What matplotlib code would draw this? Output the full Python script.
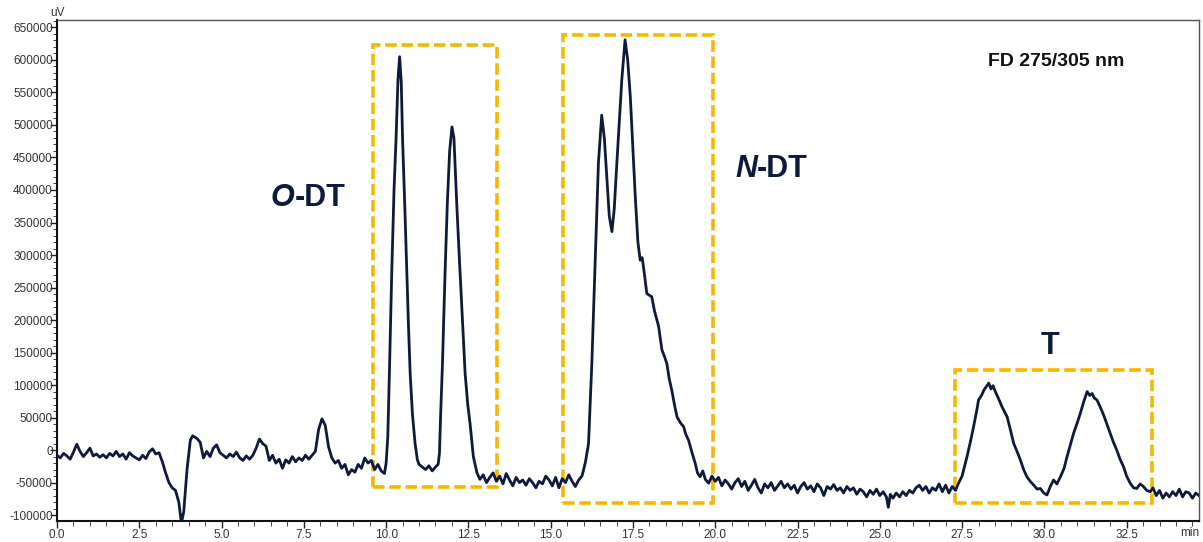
import matplotlib.pyplot as plt
from matplotlib.patches import Rectangle
from matplotlib.ticker import MultipleLocator, StrMethodFormatter

plt.rcParams['font.family'] = ['Liberation Sans', 'DejaVu Sans']
plt.rcParams['axes.unicode_minus'] = False

# chromatogram trace (time in min, signal in uV)
time_min = [
    0.0, 0.1, 0.2, 0.3, 0.4, 0.5, 0.6, 0.7, 0.8, 0.9,
    1.0, 1.1, 1.2, 1.3, 1.4, 1.5, 1.6, 1.7, 1.8, 1.9,
    2.0, 2.1, 2.2, 2.3, 2.4, 2.5, 2.6, 2.7, 2.8, 2.9,
    3.0, 3.1, 3.2, 3.3, 3.4, 3.5, 3.6, 3.7, 3.78, 3.85,
    3.95, 4.05, 4.12, 4.25, 4.35, 4.45, 4.55, 4.65, 4.75, 4.85,
    4.95, 5.05, 5.15, 5.25, 5.35, 5.45, 5.55, 5.65, 5.75, 5.85,
    5.95, 6.05, 6.15, 6.25, 6.35, 6.45, 6.55, 6.65, 6.75, 6.85,
    6.95, 7.05, 7.15, 7.25, 7.35, 7.45, 7.55, 7.65, 7.75, 7.85,
    7.95, 8.05, 8.15, 8.25, 8.35, 8.45, 8.55, 8.65, 8.75, 8.85,
    8.95, 9.05, 9.15, 9.25, 9.35, 9.45, 9.55, 9.65, 9.75, 9.85,
    9.95, 10.0, 10.05, 10.1, 10.17, 10.24, 10.3, 10.36, 10.41, 10.46,
    10.5, 10.57, 10.63, 10.68, 10.73, 10.8, 10.88, 10.95, 11.0, 11.1,
    11.2, 11.3, 11.4, 11.5, 11.58, 11.62, 11.66, 11.71, 11.79, 11.86,
    11.93, 12.0, 12.06, 12.15, 12.22, 12.3, 12.4, 12.48, 12.55, 12.65,
    12.76, 12.85, 12.95, 13.05, 13.15, 13.25, 13.35, 13.45, 13.55, 13.65,
    13.75, 13.85, 13.95, 14.05, 14.15, 14.25, 14.35, 14.45, 14.55, 14.65,
    14.75, 14.85, 14.95, 15.05, 15.15, 15.25, 15.35, 15.45, 15.55, 15.65,
    15.75, 15.85, 15.95, 16.05, 16.15, 16.2, 16.25, 16.35, 16.45, 16.55,
    16.63, 16.71, 16.78, 16.86, 16.93, 17.01, 17.16, 17.26, 17.34, 17.42,
    17.5, 17.57, 17.65, 17.72, 17.78, 17.85, 17.92, 18.0, 18.07, 18.15,
    18.28, 18.38, 18.45, 18.53, 18.6, 18.68, 18.76, 18.84, 18.94, 19.04,
    19.1, 19.19, 19.3, 19.39, 19.46, 19.54, 19.62, 19.7, 19.8, 19.9,
    20.0, 20.1, 20.2, 20.3, 20.4, 20.5, 20.6, 20.7, 20.8, 20.9,
    21.0, 21.1, 21.2, 21.3, 21.4, 21.5, 21.6, 21.7, 21.8, 21.9,
    22.0, 22.1, 22.2, 22.3, 22.4, 22.5, 22.6, 22.7, 22.8, 22.9,
    23.0, 23.1, 23.2, 23.3, 23.4, 23.5, 23.6, 23.7, 23.8, 23.9,
    24.0, 24.1, 24.2, 24.3, 24.4, 24.5, 24.6, 24.7, 24.8, 24.9,
    25.0, 25.1, 25.2, 25.26, 25.32, 25.4, 25.5, 25.6, 25.7, 25.8,
    25.9, 26.0, 26.1, 26.2, 26.3, 26.4, 26.5, 26.6, 26.7, 26.8,
    26.9, 27.0, 27.1, 27.2, 27.3, 27.4, 27.5, 27.65, 27.75, 27.85,
    27.95, 28.0, 28.1, 28.16, 28.24, 28.31, 28.38, 28.44, 28.51, 28.6,
    28.71, 28.8, 28.87, 28.95, 29.07, 29.17, 29.27, 29.37, 29.47, 29.57,
    29.68, 29.78, 29.88, 29.98, 30.08, 30.18, 30.28, 30.38, 30.49, 30.6,
    30.69, 30.79, 30.89, 31.0, 31.09, 31.2, 31.3, 31.38, 31.45, 31.52,
    31.6, 31.7, 31.8, 31.9, 32.0, 32.1, 32.2, 32.3, 32.41, 32.5,
    32.61, 32.71, 32.81, 32.91, 33.01, 33.11, 33.22, 33.3, 33.4, 33.5,
    33.6, 33.7, 33.8, 33.9, 34.0, 34.1, 34.2, 34.3, 34.4, 34.5,
    34.6, 34.7,
]
signal_uv = [
    -8000, -12000, -5000, -9000, -14000, -3000, 9000, -2000, -10000, -4000,
    3000, -9000, -6000, -11000, -7000, -12000, -5000, -9000, -2000, -10000,
    -6000, -14000, -4000, -9000, -12000, -15000, -8000, -13000, -3000, 2000,
    -6000, -4000, -18000, -35000, -50000, -58000, -62000, -80000, -112000, -95000,
    -30000, 15000, 22000, 18000, 12000, -12000, -2000, -10000, 3000, 8000,
    -4000, -8000, -12000, -6000, -10000, -3000, -12000, -16000, -9000, -14000,
    -8000, 3000, 17000, 10000, 6000, -16000, -8000, -20000, -14000, -28000,
    -15000, -20000, -10000, -18000, -12000, -16000, -8000, -14000, -8000, -2000,
    32000, 48000, 38000, 5000, -12000, -20000, -16000, -28000, -22000, -38000,
    -30000, -34000, -22000, -28000, -12000, -20000, -16000, -30000, -22000, -32000,
    -36000, -20000, 20000, 120000, 272000, 400000, 477000, 570000, 605000, 565000,
    477000, 370000, 272000, 190000, 118000, 55000, 10000, -15000, -22000, -26000,
    -30000, -24000, -32000, -26000, -22000, -5000, 60000, 130000, 272000, 380000,
    460000, 497000, 480000, 374000, 300000, 220000, 118000, 70000, 41000, -10000,
    -35000, -45000, -38000, -50000, -42000, -35000, -48000, -40000, -52000, -36000,
    -46000, -55000, -42000, -50000, -46000, -54000, -44000, -50000, -58000, -48000,
    -52000, -40000, -46000, -55000, -42000, -58000, -44000, -50000, -38000, -48000,
    -56000, -46000, -40000, -20000, 10000, 70000, 133000, 287000, 441000, 515000,
    480000, 415000, 360000, 336000, 370000, 441000, 569000, 631000, 600000, 543000,
    460000, 390000, 320000, 292000, 296000, 270000, 241000, 238000, 236000, 215000,
    190000, 154000, 145000, 133000, 110000, 92000, 70000, 51000, 42000, 36000,
    25000, 15000, -5000, -20000, -35000, -41000, -32000, -45000, -51000, -40000,
    -48000, -42000, -55000, -46000, -52000, -60000, -50000, -44000, -56000, -48000,
    -62000, -54000, -45000, -58000, -66000, -52000, -58000, -50000, -62000, -55000,
    -48000, -58000, -52000, -60000, -54000, -66000, -56000, -50000, -60000, -55000,
    -64000, -52000, -58000, -70000, -56000, -60000, -53000, -62000, -58000, -66000,
    -56000, -62000, -58000, -68000, -60000, -64000, -72000, -62000, -68000, -60000,
    -70000, -64000, -72000, -88000, -68000, -74000, -66000, -72000, -64000, -70000,
    -62000, -66000, -58000, -54000, -62000, -56000, -66000, -58000, -62000, -52000,
    -64000, -54000, -66000, -56000, -62000, -50000, -40000, -10000, 12000, 36000,
    62000, 77000, 85000, 92000, 98000, 103000, 94000, 99000, 90000, 80000,
    67000, 58000, 51000, 35000, 10000, -2000, -15000, -30000, -41000, -48000,
    -54000, -60000, -59000, -66000, -69000, -56000, -46000, -52000, -41000, -28000,
    -10000, 8000, 26000, 42000, 56000, 75000, 90000, 84000, 87000, 80000,
    77000, 66000, 54000, 40000, 26000, 12000, 0, -14000, -26000, -40000,
    -51000, -58000, -59000, -52000, -56000, -62000, -64000, -58000, -70000, -62000,
    -74000, -66000, -72000, -64000, -70000, -60000, -72000, -64000, -66000, -74000,
    -66000, -70000,
]

# highlighted peak groups: (label, t_start, t_end, y_low, y_high)
box_names = ['O-DT', 'N-DT', 'T']
box_t0 = [9.6, 15.38, 27.3]
box_t1 = [13.37, 19.94, 33.28]
box_lo = [-57000, -81000, -81000]
box_hi = [623000, 638000, 123000]

trace_color = '#0f1a3a'
box_color = '#f5b800'

fig = plt.figure(figsize=(12.03, 5.42), dpi=100)
ax = fig.add_axes([0.0474, 0.0388, 0.9493, 0.9244])

ax.plot(time_min, signal_uv, color=trace_color, lw=2.0, zorder=3)

for t0, t1, lo, hi in zip(box_t0, box_t1, box_lo, box_hi):
    ax.add_patch(Rectangle((t0, lo), t1 - t0, hi - lo, fill=False,
                           edgecolor=box_color, lw=2.6, linestyle=(0, (3.2, 1.3)),
                           zorder=2))

ax.set_xlim(0, 34.7)
ax.set_ylim(-109000, 661500)

ax.xaxis.set_major_locator(MultipleLocator(2.5))
ax.xaxis.set_minor_locator(MultipleLocator(0.5))
ax.yaxis.set_major_locator(MultipleLocator(50000))
ax.yaxis.set_minor_locator(MultipleLocator(10000))
ax.xaxis.set_major_formatter(StrMethodFormatter('{x:.1f}'))
ax.yaxis.set_major_formatter(StrMethodFormatter('{x:.0f}'))

ax.tick_params(axis='both', which='major', labelsize=8.5, labelcolor='#333333',
               color='#222222', width=1.0)
ax.tick_params(axis='x', which='major', length=5, pad=0.5)
ax.tick_params(axis='x', which='minor', length=3.5, color='#222222')
ax.tick_params(axis='y', which='major', length=5, pad=-2)
ax.tick_params(axis='y', which='minor', length=3, color='#222222')

for side in ['left', 'bottom']:
    ax.spines[side].set_linewidth(1.5)
    ax.spines[side].set_color('#111111')
for side in ['top', 'right']:
    ax.spines[side].set_linewidth(1.0)
    ax.spines[side].set_color('#555555')

# axis unit labels
ax.annotate('uV', xy=(0, 1), xycoords='axes fraction', xytext=(0, 1),
            textcoords='offset points', ha='center', va='bottom',
            fontsize=8.5, color='#333333')
ax.annotate('min', xy=(34.42, 0), xycoords=('data', 'axes fraction'),
            xytext=(0, -4.2), textcoords='offset points', ha='center', va='top',
            fontsize=8.5, color='#333333')

# peak group labels, the leading letter in bold italic
label_kw = dict(fontsize=22, fontweight='bold', color='#0d1b3e')
o_txt = ax.text(6.5, 387000, 'O', style='italic', va='center', ha='left', **label_kw)
ax.annotate('-DT', xy=(1, 0), xycoords=o_txt, va='bottom', ha='left', **label_kw)
n_txt = ax.text(20.6, 432000, 'N', style='italic', va='center', ha='left', **label_kw)
ax.annotate('-DT', xy=(1, 0), xycoords=n_txt, va='bottom', ha='left', **label_kw)
ax.text(30.16, 160000, 'T', va='center', ha='center', **label_kw)

ax.text(30.35, 598000, 'FD 275/305 nm', ha='center', va='center',
        fontsize=14, fontweight='bold', color='#111111')

fig.savefig('out.png', dpi=100)
